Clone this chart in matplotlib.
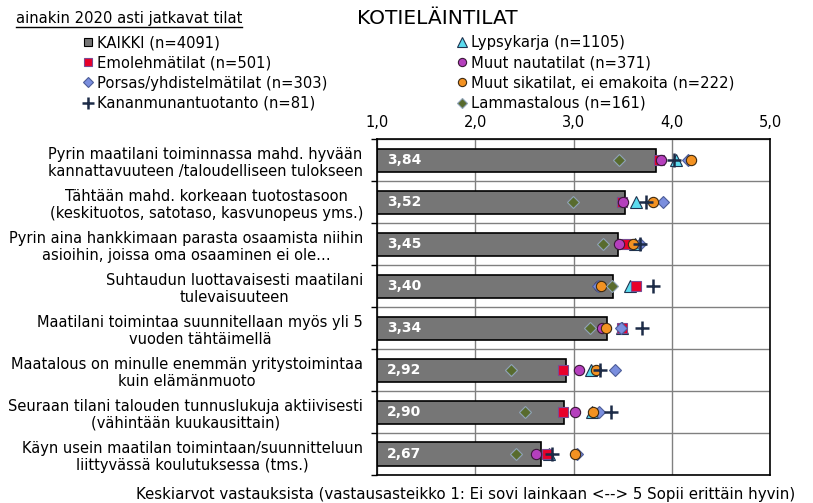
import numpy as np
import matplotlib
matplotlib.use("Agg")
import matplotlib.pyplot as plt
from matplotlib.lines import Line2D

plt.rcParams['font.family'] = ['DejaVu Sans']

# --- data ---
categories = [
    "Pyrin maatilani toiminnassa mahd. hyvään\nkannattavuuteen /taloudelliseen tulokseen",
    "Tähtään mahd. korkeaan tuotostasoon\n(keskituotos, satotaso, kasvunopeus yms.)",
    "Pyrin aina hankkimaan parasta osaamista niihin\nasioihin, joissa oma osaaminen ei ole…",
    "Suhtaudun luottavaisesti maatilani\ntulevaisuuteen",
    "Maatilani toimintaa suunnitellaan myös yli 5\nvuoden tähtäimellä",
    "Maatalous on minulle enemmän yritystoimintaa\nkuin elämänmuoto",
    "Seuraan tilani talouden tunnuslukuja aktiivisesti\n(vähintään kuukausittain)",
    "Käyn usein maatilan toimintaan/suunnitteluun\nliittyvässä koulutuksessa (tms.)",
]
kaikki = [3.84, 3.52, 3.45, 3.40, 3.34, 2.92, 2.90, 2.67]
lypsykarja = [4.04, 3.64, 3.63, 3.57, 3.49, 3.18, 3.19, 2.75]
emolehma = [3.87, 3.49, 3.53, 3.64, 3.49, 2.89, 2.89, 2.73]
muut_nauta = [3.89, 3.50, 3.46, 3.26, 3.29, 3.06, 3.02, 2.62]
porsas = [4.17, 3.91, 3.68, 3.25, 3.48, 3.42, 3.26, 3.04]
muut_sika = [4.20, 3.81, 3.61, 3.28, 3.33, 3.23, 3.20, 3.02]
kanan = [4.02, 3.74, 3.68, 3.81, 3.70, 3.27, 3.38, 2.78]
lammas = [3.46, 2.99, 3.30, 3.39, 3.17, 2.36, 2.51, 2.41]
xticks = [1.0, 2.0, 3.0, 4.0, 5.0]

names = {
    'kaikki': "KAIKKI (n=4091)",
    'lypsy': "Lypsykarja (n=1105)",
    'emo': "Emolehmätilat (n=501)",
    'nauta': "Muut nautatilat (n=371)",
    'porsas': "Porsas/yhdistelmätilat (n=303)",
    'sika': "Muut sikatilat, ei emakoita (n=222)",
    'kanan': "Kananmunantuotanto (n=81)",
    'lammas': "Lammastalous (n=161)",
}

fig = plt.figure(figsize=(8.13, 5.03), dpi=100)
ax = fig.add_axes([377 / 813, 1 - 475 / 503, 393 / 813, 335.5 / 503])

y = np.arange(len(categories))

# --- bars ---
ax.barh(y, np.array(kaikki) - 1.0, left=1.0, height=0.55, color='#767676',
        edgecolor='black', linewidth=1.2, zorder=2)
for yi, v in zip(y, kaikki):
    ax.annotate(f"{v:.2f}".replace('.', ','), xy=(1.0, yi), xytext=(7, 0),
                textcoords='offset points', va='center', ha='left',
                color='white', fontweight='bold', fontsize=10, zorder=3)

# --- series markers (drawn in the legend order) ---
series = [
    ('lypsy', lypsykarja, dict(marker='^', ms=9, mfc='#5cdcef', mec='#1d3350', mew=0.8)),
    ('emo', emolehma, dict(marker='s', ms=6.8, mfc='#e8002a', mec='#7b4a92', mew=0.8)),
    ('nauta', muut_nauta, dict(marker='o', ms=7.4, mfc='#b53fbd', mec='#3a1838', mew=0.8)),
    ('porsas', porsas, dict(marker='D', ms=6.4, mfc='#7a8ede', mec='#4d5d98', mew=0.8)),
    ('sika', muut_sika, dict(marker='o', ms=7.4, mfc='#f39222', mec='#3d2a12', mew=0.8)),
    ('kanan', kanan, dict(marker='+', ms=10, mfc='none', mec='#1c2b47', mew=1.8)),
    ('lammas', lammas, dict(marker='D', ms=6.4, mfc='#586b2e', mec='#8fa3b8', mew=0.8)),
]
handles = {}
for i, (key, vals, style) in enumerate(series):
    h, = ax.plot(vals, y, ls='none', zorder=4 + i, label=names[key], **style)
    handles[key] = h
handles['kaikki'] = Line2D([], [], ls='none', marker='s', ms=6.8, mfc='#767676',
                           mec='black', mew=0.8, label=names['kaikki'])

# --- axes styling ---
ax.set_xlim(1.0, 5.0)
ax.set_ylim(len(categories) - 0.5, -0.5)
ax.set_xticks(xticks)
ax.set_xticklabels([f"{t:.1f}".replace('.', ',') for t in xticks], fontsize=10.5)
ax.xaxis.tick_top()
ax.tick_params(axis='x', length=0, pad=7)
ax.set_yticks(y)
ax.set_yticklabels(categories, fontsize=10.5, multialignment='center')
ax.tick_params(axis='y', which='major', length=0, pad=10)
ax.set_yticks(np.arange(len(categories) + 1) - 0.5, minor=True)
ax.tick_params(axis='y', which='minor', length=4, width=1, direction='out')
ax.grid(axis='x', which='major', color='#808080', lw=1, zorder=0)
ax.grid(axis='y', which='minor', color='#808080', lw=1, zorder=0)
ax.set_axisbelow(True)
for s in ax.spines.values():
    s.set_color('black')
    s.set_linewidth(1.2)

# --- legend in two columns ---
left = ['kaikki', 'emo', 'porsas', 'kanan']
right = ['lypsy', 'nauta', 'sika', 'lammas']
leg_kw = dict(frameon=False, fontsize=10.6, borderpad=0, borderaxespad=0,
              handlelength=0.55, handletextpad=0.3, labelspacing=0.36,
              markerscale=0.8, loc='upper left')
fig.legend(handles=[handles[k] for k in left], bbox_to_anchor=(84 / 813, 1 - 35 / 503), **leg_kw)
fig.legend(handles=[handles[k] for k in right], bbox_to_anchor=(458 / 813, 1 - 35 / 503), **leg_kw)

# --- titles ---
fig.text(437 / 813, 1 - 18 / 503, "KOTIELÄINTILAT", ha='center', va='center', fontsize=14.5)
sub = fig.text(16 / 813, 1 - 18 / 503, "ainakin 2020 asti jatkavat tilat", ha='left',
               va='center', fontsize=10.6)
fig.text(466 / 813, 1 - 494 / 503,
         "Keskiarvot vastauksista (vastausasteikko 1: Ei sovi lainkaan <--> 5 Sopii erittäin hyvin)",
         ha='center', va='center', fontsize=10.8)

# underline the subtitle
fig.canvas.draw()
bb = sub.get_window_extent().transformed(fig.transFigure.inverted())
fig.add_artist(Line2D([bb.x0, bb.x1], [bb.y0 - 1 / 503, bb.y0 - 1 / 503],
                      transform=fig.transFigure, color='black', lw=1))

fig.savefig("out.png", dpi=100)
